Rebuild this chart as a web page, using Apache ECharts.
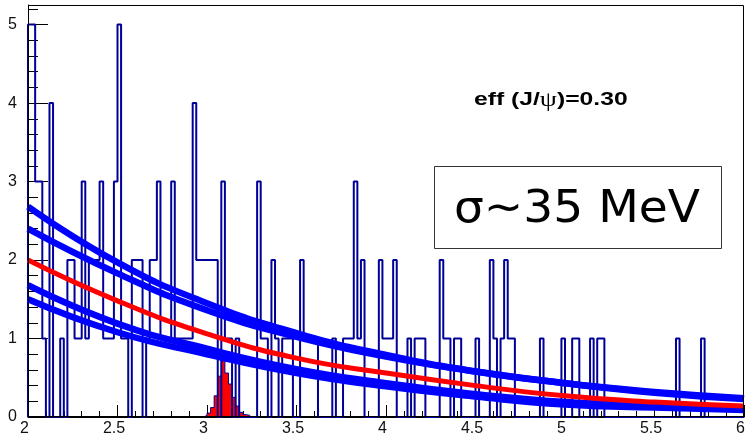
<!DOCTYPE html>
<html>
<head>
<meta charset="utf-8">
<script src="https://cdn.jsdelivr.net/npm/echarts@6/dist/echarts.min.js"></script>
<style>
    html, body { margin: 0; padding: 0; background: #fff; }
    #chart { width: 746px; height: 436px; }
</style>
</head>
<body>
<div id="chart"></div>
<script>
    // histogram: 200 bins of 0.02 from 2 to 6
    const histStart = 2;
    const binWidth = 0.02;
    const counts = [
        5,5,3,3,1,0,4,0,0,1, 0,2,2,1,1,3,1,2,2,2,
        3,1,1,1,3,5,1,1,0,2, 2,2,0,1,2,2,3,1,1,1,
        3,1,1,1,1,1,4,2,2,2, 2,2,2,0,3,1,1,0,1,0,
        0,0,0,0,3,1,1,0,2,1, 0,1,1,1,0,0,2,1,1,1,
        1,0,0,0,0,1,0,0,1,1, 1,3,1,2,0,0,0,0,2,1,
        1,1,2,0,0,0,1,0,1,1, 1,0,0,0,0,2,1,1,0,1,
        1,0,0,0,0,1,0,0,0,2, 1,0,1,2,1,1,0,0,0,0,
        0,0,0,1,0,0,0,0,0,1, 0,0,1,1,0,0,0,1,0,1,
        1,0,0,0,0,0,0,0,0,0, 0,0,0,0,0,0,0,0,0,0,
        0,1,0,0,0,0,0,0,1,0, 0,0,0,0,0,0,0,0,0,0
    ];

    // J/psi signal histogram (same binning), starting at 2.98
    const peakStart = 2.98;
    const peakCounts = [0.02, 0.05, 0.12, 0.27, 0.52, 0.73, 0.56, 0.42, 0.25, 0.14, 0.06, 0.03, 0.02];

    // fitted curves, read at these x values
    const curveX   = [2, 2.5, 3, 3.5, 4, 4.5, 5, 5.5, 6];
    const fitRed   = [2.00, 1.48, 1.06, 0.75, 0.56, 0.40, 0.27, 0.19, 0.14];
    const fitBlue1 = [2.68, 1.97, 1.45, 1.07, 0.79, 0.58, 0.43, 0.31, 0.23];
    const fitBlue2 = [2.40, 1.83, 1.36, 1.02, 0.77, 0.58, 0.43, 0.32, 0.24];
    const fitBlue3 = [1.68, 1.19, 0.87, 0.61, 0.43, 0.29, 0.19, 0.14, 0.11];
    const fitBlue4 = [1.50, 1.08, 0.80, 0.56, 0.39, 0.26, 0.16, 0.12, 0.09];

    function stepPoints(start, vals){
        const pts = [[start, 0]];
        vals.forEach((v, i) => pts.push([+(start + i * binWidth).toFixed(4), v]));
        pts.push([+(start + vals.length * binWidth).toFixed(4), 0]);
        return pts;
    }
    function curve(vals){
        return curveX.map((x, i) => [x, vals[i]]);
    }

    const labelFont = { fontFamily: 'Liberation Sans', fontSize: 16, color: '#111' };

    const myChart = echarts.init(document.getElementById('chart'));
    const option = {
        animation: false,
        grid: { left: 28, right: 2, top: 5, bottom: 19, containLabel: false, outerBoundsMode: 'none' },
        xAxis: {
            type: 'value', min: 2, max: 6, interval: 0.5,
            axisLine: { show: true, onZero: false, lineStyle: { color: '#000', width: 1 } },
            splitLine: { show: false },
            axisTick: { show: true, inside: true, length: 12, lineStyle: { color: '#000' } },
            minorTick: { show: true, splitNumber: 5, length: 6, lineStyle: { color: '#000' } },
            axisLabel: Object.assign({ margin: 4, padding: [0, 7, 0, 0] }, labelFont)
        },
        yAxis: {
            type: 'value', min: 0, max: 5.25, interval: 1,
            axisLine: { show: true, onZero: false, lineStyle: { color: '#000', width: 1 } },
            splitLine: { show: false },
            axisTick: { show: true, inside: true, length: 20, lineStyle: { color: '#000' } },
            minorTick: { show: true, splitNumber: 5, length: 10, lineStyle: { color: '#000' } },
            axisLabel: Object.assign({ margin: 11, showMaxLabel: false }, labelFont)
        },
        series: [
            {
                name: 'data', type: 'line', step: 'end', symbol: 'none',
                data: stepPoints(histStart, counts),
                lineStyle: { color: '#000099', width: 2 }
            },
            {
                name: 'signal', type: 'line', step: 'end', symbol: 'none',
                data: stepPoints(peakStart, peakCounts),
                lineStyle: { color: '#000099', width: 1 },
                areaStyle: { color: '#ff0000', opacity: 1 }
            },
            { name: 'b1', type: 'line', smooth: true, symbol: 'none', data: curve(fitBlue1), lineStyle: { color: '#0000ff', width: 6.5 } },
            { name: 'b2', type: 'line', smooth: true, symbol: 'none', data: curve(fitBlue2), lineStyle: { color: '#0000ff', width: 6.5 } },
            { name: 'b3', type: 'line', smooth: true, symbol: 'none', data: curve(fitBlue3), lineStyle: { color: '#0000ff', width: 6.5 } },
            { name: 'b4', type: 'line', smooth: true, symbol: 'none', data: curve(fitBlue4), lineStyle: { color: '#0000ff', width: 6.5 } },
            { name: 'fit', type: 'line', smooth: true, symbol: 'none', data: curve(fitRed), lineStyle: { color: '#ff0000', width: 5 } }
        ],
        graphic: [
            {
                // plot frame
                type: 'rect', z: 90, silent: true,
                shape: { x: 28.5, y: 5.5, width: 715, height: 411 },
                style: { fill: 'none', stroke: '#000', lineWidth: 1 }
            },
            {
                type: 'text', x: 474, y: 100, scaleX: 1.3, z: 100,
                style: {
                    text: 'eff (J/{psi|ψ})=0.30',
                    font: 'bold 19px "Liberation Sans"',
                    fill: '#000', align: 'left', verticalAlign: 'middle',
                    rich: { psi: { font: '21px "Liberation Serif"', fill: '#000' } }
                }
            },
            {
                type: 'rect', z: 100,
                shape: { x: 434.5, y: 166.5, width: 287, height: 82 },
                style: { fill: '#fff', stroke: '#333', lineWidth: 1 }
            },
            {
                type: 'text', x: 577, y: 211, scaleX: 1.07, z: 101,
                style: {
                    text: 'σ~35 MeV',
                    font: '44px "DejaVu Sans"',
                    fill: '#000', align: 'center', verticalAlign: 'middle'
                }
            }
        ]
    };
    myChart.setOption(option);
</script>
</body>
</html>
